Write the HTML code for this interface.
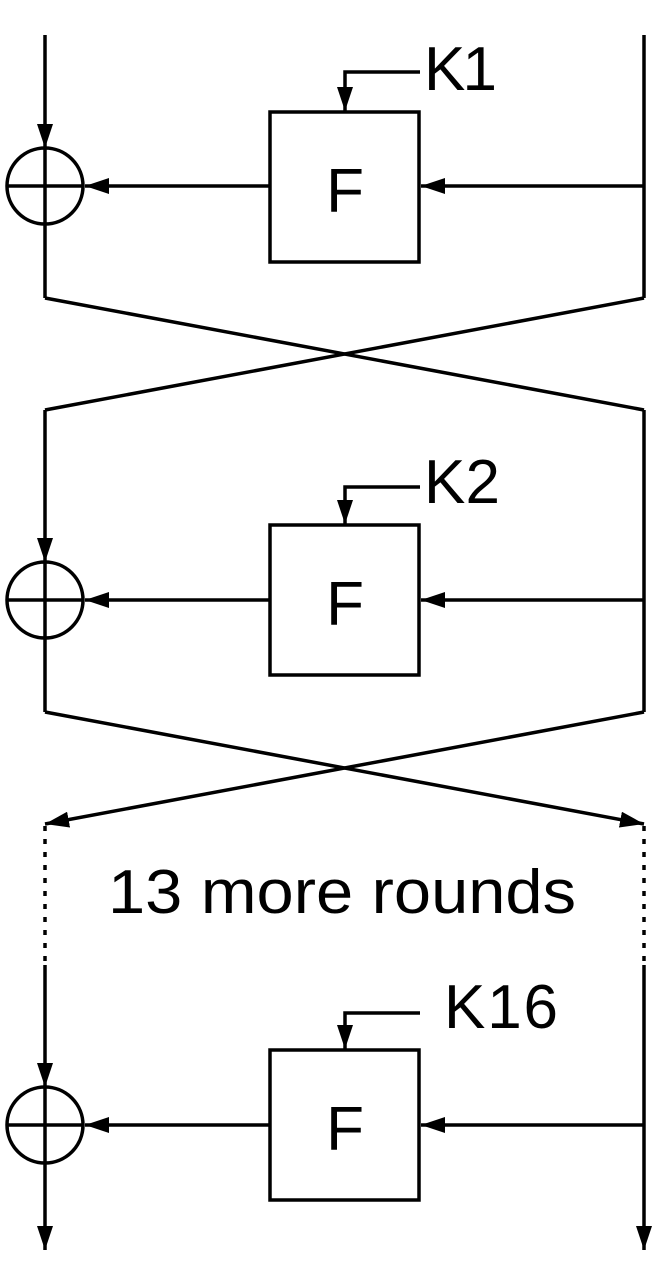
<!DOCTYPE html>
<html><head><style>body{margin:0;background:#fff}svg{display:block}</style></head><body>
<svg width="662" height="1283" viewBox="0 0 662 1283" xmlns="http://www.w3.org/2000/svg">
<defs>
<marker id="b" markerWidth="24" markerHeight="16" refX="24" refY="8" orient="auto" markerUnits="userSpaceOnUse"><path d="M0,0L24,8L0,16z" fill="#000"/></marker></defs>
<g stroke="#000" stroke-width="3.5" fill="none">
<line x1="45" y1="35" x2="45" y2="148" marker-end="url(#b)"/>
<circle cx="45" cy="186" r="38"/>
<line x1="7" y1="186" x2="83" y2="186"/><line x1="45" y1="148" x2="45" y2="298"/>
<rect x="270" y="112" width="149" height="150"/>
<line x1="270" y1="186" x2="85" y2="186" marker-end="url(#b)"/>
<line x1="644" y1="35" x2="644" y2="298"/>
<line x1="644" y1="186" x2="421" y2="186" marker-end="url(#b)"/>
<polyline points="420,72 345,72 345,111" marker-end="url(#b)"/>
<line x1="45" y1="298" x2="644" y2="410"/><line x1="644" y1="298" x2="45" y2="410"/>
<line x1="45" y1="410" x2="45" y2="562" marker-end="url(#b)"/>
<circle cx="45" cy="600" r="38"/>
<line x1="7" y1="600" x2="83" y2="600"/><line x1="45" y1="562" x2="45" y2="712"/>
<rect x="270" y="525" width="149" height="150"/>
<line x1="270" y1="600" x2="85" y2="600" marker-end="url(#b)"/>
<line x1="644" y1="410" x2="644" y2="712"/>
<line x1="644" y1="600" x2="421" y2="600" marker-end="url(#b)"/>
<polyline points="420,487 345,487 345,524" marker-end="url(#b)"/>
<line x1="45" y1="712" x2="644" y2="824" marker-end="url(#b)"/><line x1="644" y1="712" x2="45" y2="824" marker-end="url(#b)"/>
<line x1="45" y1="826" x2="45" y2="965" stroke-dasharray="5 8"/>
<line x1="644" y1="826" x2="644" y2="965" stroke-dasharray="5 8"/>
<line x1="45" y1="965" x2="45" y2="1087" marker-end="url(#b)"/>
<circle cx="45" cy="1125" r="38"/>
<line x1="7" y1="1125" x2="83" y2="1125"/><line x1="45" y1="1087" x2="45" y2="1250" marker-end="url(#b)"/>
<rect x="270" y="1050" width="149" height="150"/>
<line x1="270" y1="1125" x2="85" y2="1125" marker-end="url(#b)"/>
<line x1="644" y1="965" x2="644" y2="1250" marker-end="url(#b)"/>
<line x1="644" y1="1125" x2="421" y2="1125" marker-end="url(#b)"/>
<polyline points="420,1013 345,1013 345,1049" marker-end="url(#b)"/>
</g>
<g font-family="Liberation Sans, sans-serif" font-size="62" fill="#000">
<text x="345" y="212" text-anchor="middle">F</text>
<text x="345" y="625" text-anchor="middle">F</text>
<text x="345" y="1150" text-anchor="middle">F</text>
<text x="424" y="90" textLength="73">K1</text>
<text x="424" y="503" textLength="76">K2</text>
<text x="444" y="1028" textLength="114">K16</text>
<text x="108" y="913" textLength="468" lengthAdjust="spacingAndGlyphs">13 more rounds</text>
</g>
</svg>
</body></html>
